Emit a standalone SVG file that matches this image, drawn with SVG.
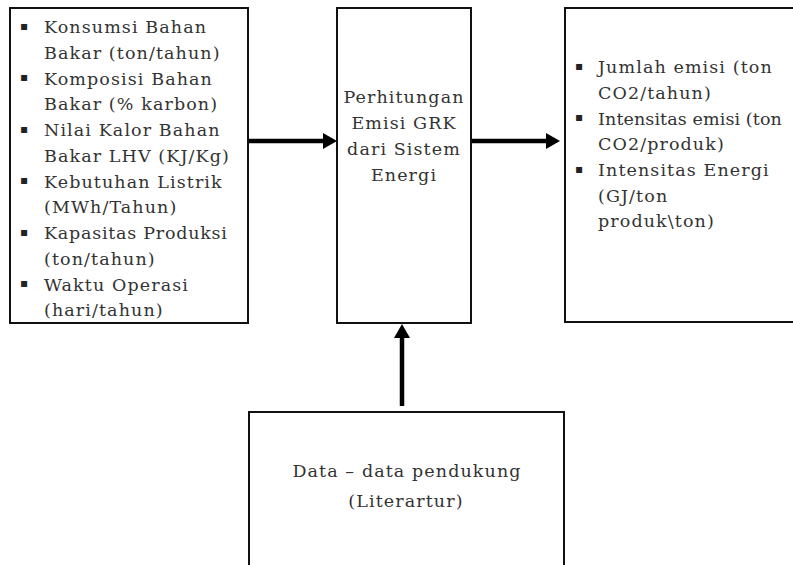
<svg xmlns="http://www.w3.org/2000/svg" width="793" height="565" viewBox="0 0 793 565">
<style>
.box{fill:#fff;stroke:#111;stroke-width:2}
.t{font-family:"DejaVu Serif","Liberation Serif",serif;font-size:17.5px;letter-spacing:1.1px;fill:#333}
.c{text-anchor:middle}
.tight{letter-spacing:0.1px}
.b{font-family:"DejaVu Sans",sans-serif;font-size:12px;fill:#222}
.conn{stroke:#000;stroke-width:4.5;fill:none}
</style>
<defs>
<marker id="ah" viewBox="0 0 14 16" refX="0" refY="8" markerWidth="14" markerHeight="16" markerUnits="userSpaceOnUse" orient="auto">
<path d="M0,0 L14,8 L0,16 Z" fill="#000"/>
</marker>
</defs>
<rect width="793" height="565" fill="#fff"/>
<g id="inputs">
<rect class="box" x="10" y="8" width="238" height="315"/>
<text class="b" x="20" y="30">▪</text>
<text class="b" x="20" y="81">▪</text>
<text class="b" x="20" y="133">▪</text>
<text class="b" x="20" y="184">▪</text>
<text class="b" x="20" y="236">▪</text>
<text class="b" x="20" y="287">▪</text>
<text class="t" x="44" y="33">Konsumsi Bahan</text>
<text class="t" x="44" y="59">Bakar (ton/tahun)</text>
<text class="t" x="44" y="84.5">Komposisi Bahan</text>
<text class="t" x="44" y="110">Bakar (% karbon)</text>
<text class="t" x="44" y="136">Nilai Kalor Bahan</text>
<text class="t" x="44" y="162">Bakar LHV (KJ/Kg)</text>
<text class="t" x="44" y="187.5">Kebutuhan Listrik</text>
<text class="t" x="44" y="213">(MWh/Tahun)</text>
<text class="t" x="44" y="239" textLength="184" lengthAdjust="spacing">Kapasitas Produksi</text>
<text class="t" x="44" y="265">(ton/tahun)</text>
<text class="t" x="44" y="290.5">Waktu Operasi</text>
<text class="t" x="44" y="316">(hari/tahun)</text>
</g>
<g id="process">
<rect class="box" x="337" y="8" width="134" height="315"/>
<text class="t c" x="404" y="103">Perhitungan</text>
<text class="t c" x="404" y="129">Emisi GRK</text>
<text class="t c" x="404" y="155">dari Sistem</text>
<text class="t c" x="404" y="181">Energi</text>
</g>
<g id="outputs">
<rect class="box" x="565" y="8" width="240" height="314"/>
<text class="b" x="575" y="70">▪</text>
<text class="b" x="575" y="121">▪</text>
<text class="b" x="575" y="173">▪</text>
<text class="t" x="598" y="73">Jumlah emisi (ton</text>
<text class="t" x="598" y="99">CO2/tahun)</text>
<text class="t tight" x="598" y="124.5">Intensitas emisi (ton</text>
<text class="t" x="598" y="150">CO2/produk)</text>
<text class="t" x="598" y="176">Intensitas Energi</text>
<text class="t" x="598" y="202">(GJ/ton</text>
<text class="t" x="598" y="227">produk\ton)</text>
</g>
<g id="support">
<rect class="box" x="249" y="412" width="315" height="170"/>
<text class="t c" x="407" y="477">Data – data pendukung</text>
<text class="t c" x="406" y="507">(Literartur)</text>
</g>
<g id="connectors">
<line class="conn" x1="249" y1="141" x2="323" y2="141" marker-end="url(#ah)"/>
<line class="conn" x1="472" y1="141" x2="546" y2="141" marker-end="url(#ah)"/>
<line class="conn" x1="402" y1="406" x2="402" y2="338" marker-end="url(#ah)"/>
</g>
</svg>
